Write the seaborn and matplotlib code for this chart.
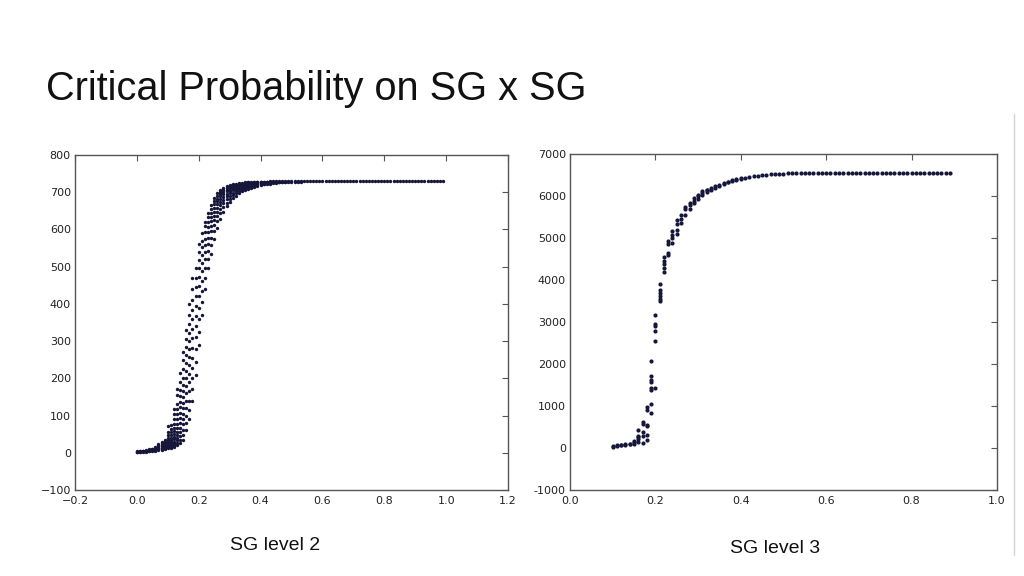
import pandas as pd
import matplotlib.pyplot as plt
import seaborn as sns
from matplotlib.lines import Line2D
from matplotlib.ticker import FuncFormatter

# SG level 2: occupation probability p, and the cluster sizes seen at each p
sg2_p = [0.00, 0.01, 0.02, 0.03, 0.04, 0.05, 0.06, 0.07, 0.08, 0.09,
         0.10, 0.11, 0.12, 0.13, 0.14, 0.15, 0.16, 0.17, 0.18, 0.19,
         0.20, 0.21, 0.22, 0.23, 0.24, 0.25, 0.26, 0.27, 0.28, 0.29,
         0.30, 0.31, 0.32, 0.33, 0.34, 0.35, 0.36, 0.37, 0.38, 0.39,
         0.40, 0.41, 0.42, 0.43, 0.44, 0.45, 0.46, 0.47, 0.48, 0.49,
         0.50, 0.51, 0.52, 0.53, 0.54, 0.55, 0.56, 0.57, 0.58, 0.59,
         0.60, 0.61, 0.62, 0.63, 0.64, 0.65, 0.66, 0.67, 0.68, 0.69,
         0.70, 0.71, 0.72, 0.73, 0.74, 0.75, 0.76, 0.77, 0.78, 0.79,
         0.80, 0.81, 0.82, 0.83, 0.84, 0.85, 0.86, 0.87, 0.88, 0.89,
         0.90, 0.91, 0.92, 0.93, 0.94, 0.95, 0.96, 0.97, 0.98, 0.99]
sg2_size = [
    [1, 2, 3, 4], [2, 3, 4, 5], [3, 4, 5, 6], [3, 5, 6, 8], [4, 6, 7, 9],
    [5, 7, 9, 11], [6, 8, 10, 13, 15], [7, 10, 12, 14, 17, 20, 24],
    [8, 11, 13, 16, 19, 22, 25, 28],
    [10, 12, 14, 17, 20, 23, 26, 30, 34],
    [12, 15, 18, 22, 26, 30, 35, 40, 47, 55, 72],
    [14, 17, 21, 25, 30, 35, 41, 48, 56, 65, 75],
    [16, 20, 25, 30, 36, 43, 50, 58, 67, 78, 90, 104, 118],
    [20, 26, 33, 40, 48, 57, 67, 78, 90, 103, 117, 132, 155, 170],
    [25, 34, 44, 55, 67, 80, 94, 108, 122, 137, 152, 168, 190, 215],
    [35, 48, 62, 76, 90, 105, 120, 135, 150, 165, 182, 200, 225, 250, 270],
    [60, 80, 100, 120, 140, 160, 180, 200, 220, 240, 262, 285, 305, 330],
    [90, 115, 140, 165, 190, 212, 235, 258, 280, 300, 322, 345, 370, 400],
    [140, 170, 200, 228, 255, 282, 308, 333, 358, 383, 410, 440, 470],
    [210, 245, 278, 310, 340, 368, 395, 420, 445, 470, 495],
    [290, 325, 358, 390, 420, 448, 472, 495, 518, 540, 560],
    [370, 405, 435, 462, 487, 510, 532, 552, 570, 590],
    [440, 470, 497, 520, 540, 558, 575, 592, 608, 620],
    [495, 520, 542, 562, 578, 593, 607, 620, 633, 645],
    [535, 558, 578, 595, 610, 622, 634, 645, 656, 666],
    [575, 595, 611, 625, 637, 648, 658, 667, 676, 684],
    [605, 622, 636, 648, 658, 667, 675, 683, 690, 697],
    [628, 643, 655, 665, 674, 682, 689, 695, 701, 706],
    [648, 660, 670, 679, 687, 694, 700, 705, 710],
    [662, 672, 681, 689, 696, 702, 707, 712, 716],
    [674, 683, 691, 698, 704, 709, 713, 717, 720],
    [684, 692, 699, 705, 710, 714, 718, 721],
    [691, 698, 704, 709, 713, 717, 720, 723],
    [697, 703, 708, 712, 716, 719, 722, 724],
    [702, 707, 711, 715, 718, 721, 723, 725],
    [706, 710, 714, 717, 720, 722, 724, 726],
    [709, 713, 716, 719, 722, 724, 726, 727],
    [712, 716, 719, 721, 723, 725, 727],
    [715, 718, 721, 723, 725, 726, 728],
    [717, 720, 722, 724, 726, 727, 728],
    [719, 722, 724, 726, 727, 728], [721, 723, 725, 727, 728], [722, 724, 726, 727, 728],
    [723, 725, 727, 728, 729], [724, 726, 727, 728, 729], [725, 727, 728, 729],
    [726, 727, 728, 729], [727, 728, 729], [727, 728, 729], [728, 729], [728, 729],
    [728, 729], [728, 729], [728, 729], [729], [729], [729], [729], [729], [729], [729],
    [729], [729], [729], [729], [729], [729], [729], [729], [729], [729],
    [729], [729], [729], [729], [729], [729], [729], [729], [729], [729],
    [729], [729], [729], [729], [729], [729], [729], [729], [729], [729],
    [729], [729], [729], [729], [729], [729], [729], [729], [729], [729],
]

# SG level 3
sg3_p = [0.10, 0.11, 0.12, 0.13, 0.14, 0.15, 0.16, 0.17, 0.18, 0.19,
         0.20, 0.21, 0.22, 0.23, 0.24, 0.25, 0.26, 0.27, 0.28, 0.29,
         0.30, 0.31, 0.32, 0.33, 0.34, 0.35, 0.36, 0.37, 0.38, 0.39,
         0.40, 0.41, 0.42, 0.43, 0.44, 0.45, 0.46, 0.47, 0.48, 0.49,
         0.50, 0.51, 0.52, 0.53, 0.54, 0.55, 0.56, 0.57, 0.58, 0.59,
         0.60, 0.61, 0.62, 0.63, 0.64, 0.65, 0.66, 0.67, 0.68, 0.69,
         0.70, 0.71, 0.72, 0.73, 0.74, 0.75, 0.76, 0.77, 0.78, 0.79,
         0.80, 0.81, 0.82, 0.83, 0.84, 0.85, 0.86, 0.87, 0.88, 0.89]
sg3_size = [
    [30, 45], [45, 60], [60, 80], [75, 95], [85, 105],
    [100, 135, 160],
    [150, 215, 260, 290, 440],
    [120, 280, 370, 560, 610],
    [180, 300, 520, 550, 900, 980],
    [840, 1040, 1370, 1430, 1560, 1630, 1710, 2080],
    [1430, 2540, 2780, 2900, 2960, 3160],
    [3500, 3550, 3620, 3700, 3770, 3900],
    [4180, 4290, 4370, 4440, 4550],
    [4600, 4650, 4850, 4920],
    [4890, 5000, 5080, 5160],
    [5100, 5200, 5340, 5420],
    [5350, 5450, 5550],
    [5550, 5680, 5740],
    [5700, 5780, 5840],
    [5820, 5880, 5950],
    [5920, 5990, 6020], [6030, 6080, 6110], [6090, 6130, 6150],
    [6150, 6180], [6200, 6230], [6240, 6270], [6280, 6300], [6320, 6340],
    [6350, 6370], [6380, 6395], [6400, 6415],
    [6430], [6445], [6465], [6480], [6495], [6505], [6515], [6522], [6528],
    [6533], [6537], [6540], [6543], [6545], [6547], [6549], [6550], [6550], [6550],
    [6551], [6551], [6551], [6551], [6551], [6552], [6552], [6552], [6552], [6552],
    [6552], [6552], [6552], [6552], [6552], [6552], [6552], [6552], [6552], [6552],
    [6552], [6552], [6552], [6552], [6552], [6552], [6552], [6552], [6552], [6552],
]

sg2_ticks_x = [-0.2, 0.0, 0.2, 0.4, 0.6, 0.8, 1.0, 1.2]
sg2_ticks_y = [-100, 0, 100, 200, 300, 400, 500, 600, 700, 800]
sg3_ticks_x = [0.0, 0.2, 0.4, 0.6, 0.8, 1.0]
sg3_ticks_y = [-1000, 0, 1000, 2000, 3000, 4000, 5000, 6000, 7000]

df2 = pd.DataFrame([(p, v) for p, vals in zip(sg2_p, sg2_size) for v in vals], columns=['p', 'size'])
df3 = pd.DataFrame([(p, v) for p, vals in zip(sg3_p, sg3_size) for v in vals], columns=['p', 'size'])

sns.set_style('white')
plt.rcParams['font.family'] = ['DejaVu Sans']

fig = plt.figure(figsize=(10.24, 5.76), dpi=100)
ax1 = fig.add_axes([0.0732, 0.1493, 0.4229, 0.5817])
ax2 = fig.add_axes([0.5566, 0.1493, 0.4170, 0.5835])

dot = '#16163a'
sns.scatterplot(data=df2, x='p', y='size', ax=ax1, s=6, color=dot, linewidth=0)
sns.scatterplot(data=df3, x='p', y='size', ax=ax2, s=9, color=dot, linewidth=0)

for ax, xt, yt in [(ax1, sg2_ticks_x, sg2_ticks_y), (ax2, sg3_ticks_x, sg3_ticks_y)]:
    ax.set_xlim(xt[0], xt[-1])
    ax.set_ylim(yt[0], yt[-1])
    ax.set_xticks(xt)
    ax.set_yticks(yt)
    ax.set_xlabel('')
    ax.set_ylabel('')
    ax.tick_params(direction='in', length=4, width=0.8, color='#555555',
                   top=True, right=True, labelsize=8, labelcolor='#222222')
    ax.tick_params(axis='x', pad=4.5)
    ax.tick_params(axis='y', pad=3)
    for sp in ax.spines.values():
        sp.set_color('#555555')
        sp.set_linewidth(1.0)

# right-hand chart uses a plain hyphen for negatives
ax2.yaxis.set_major_formatter(FuncFormatter(lambda v, _: '%d' % v))

fig.text(0.045, 0.826, 'Critical Probability on SG x SG', fontsize=28.6,
         family='Liberation Sans', color='#111111', va='baseline')
fig.text(0.269, 0.053, 'SG level 2', fontsize=14, family='Liberation Sans',
         ha='center', va='center', color='#111111')
fig.text(0.757, 0.048, 'SG level 3', fontsize=14, family='Liberation Sans',
         ha='center', va='center', color='#111111')

# thin grey edge line on the right of the slide
fig.add_artist(Line2D([0.990, 0.990], [0.036, 0.802], transform=fig.transFigure,
                      color='#d4d4d4', linewidth=1))

fig.savefig('out.png', dpi=100)
